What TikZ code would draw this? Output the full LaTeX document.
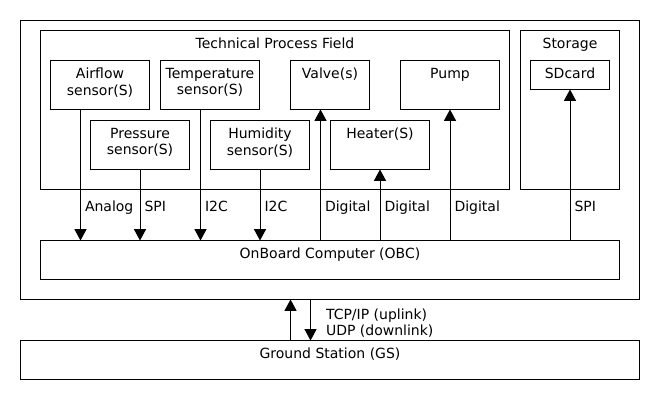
\documentclass[tikz,border=0pt]{standalone}
\usepackage{fontspec}
\setmainfont{DejaVu Sans}
\usetikzlibrary{arrows.meta,positioning}

\begin{document}
\begin{tikzpicture}[
    x=0.75pt, y=-0.75pt,
    font=\fontsize{10.5}{12.3}\selectfont,
    line width=0.75pt,
    frame/.style={
        draw,
        anchor=north west,
        inner sep=0pt,
        outer sep=0pt
    },
    box/.style={
        frame,
        minimum width=74.25pt,
        minimum height=36.75pt
    },
    boxtext/.style={
        anchor=north,
        align=center,
        inner sep=0pt,
        yshift=-5.4pt
    },
    sig/.style={anchor=base west, inner sep=0pt, xshift=3pt, yshift=21.75pt},
    arrow/.style={-{Triangle[width=9pt,length=8.5pt]}}
]
    \useasboundingbox (0,0) rectangle (660,400);

    % system frame and groups
    \node[frame, minimum width=464.25pt, minimum height=209.25pt] (system) at (20.5,20.5) {};
    \node[frame, minimum width=351.75pt, minimum height=119.25pt] (field) at (40.5,30.5) {};
    \node[boxtext] (fieldtitle) at (field.north) {Technical Process Field};
    \node[frame, minimum width=74.25pt, minimum height=119.25pt, right=8.25pt of field] (storage) {};
    \node[boxtext] (storagetitle) at (storage.north) {Storage};

    % first row
    \node[box] (airflow) at (50.5,60.5) {};
    \node[boxtext] (airflowtext) at (airflow.north) {Airflow\\sensor(S)};
    \node[box, right=8.25pt of airflow] (temperature) {};
    \node[boxtext] (temperaturetext) at (temperature.north) {Temperature\\sensor(S)};
    \node[box, minimum width=59.25pt, right=23.25pt of temperature] (valve) {};
    \node[boxtext] (valvetext) at (valve.north) {Valve(s)};
    \node[box, right=23.25pt of valve] (pump) {};
    \node[boxtext] (pumptext) at (pump.north) {Pump};

    % second row
    \node[box] (pressure) at ([xshift=30pt, yshift=-8.25pt]airflow.south west) {};
    \node[boxtext] (pressuretext) at (pressure.north) {Pressure\\sensor(S)};
    \node[box, right=15.75pt of pressure] (humidity) {};
    \node[boxtext] (humiditytext) at (humidity.north) {Humidity\\sensor(S)};
    \node[box, right=15.75pt of humidity] (heater) {};
    \node[boxtext] (heatertext) at (heater.north) {Heater(S)};

    \node[box, minimum width=59.25pt, minimum height=21.75pt] (sdcard)
        at ([xshift=7.5pt, yshift=-22.5pt]storage.north west) {};
    \node[boxtext] (sdcardtext) at (sdcard.north) {SDcard};

    \node[frame, minimum width=434.25pt, minimum height=29.25pt] (obc) at (40.5,240.5) {};
    \node[boxtext] (obctext) at (obc.north) {OnBoard Computer (OBC)};
    \node[frame, minimum width=464.25pt, minimum height=29.25pt] (gs) at (20.5,340.5) {};
    \node[boxtext] (gstext) at (gs.north) {Ground Station (GS)};

    % sensors to OBC
    \draw[arrow] ([xshift=22.5pt]airflow.south west)
        -- ([xshift=22.5pt]airflow.south west |- obc.north) node[sig] (lanalog) {Analog};
    \draw[arrow] (pressure.south)
        -- (pressure.south |- obc.north) node[sig] (lspi) {SPI};
    \draw[arrow] ([xshift=30pt]temperature.south west)
        -- ([xshift=30pt]temperature.south west |- obc.north) node[sig] (li2ca) {I2C};
    \draw[arrow] (humidity.south)
        -- (humidity.south |- obc.north) node[sig] (li2cb) {I2C};

    % OBC to actuators and storage
    \draw[arrow] ([xshift=22.5pt]valve.south west |- obc.north) node[sig] (ldigitala) {Digital}
        -- ([xshift=22.5pt]valve.south west);
    \draw[arrow] (heater.south |- obc.north) node[sig] (ldigitalb) {Digital}
        -- (heater.south);
    \draw[arrow] (pump.south |- obc.north) node[sig] (ldigitalc) {Digital}
        -- (pump.south);
    \draw[arrow] (sdcard.south |- obc.north) node[sig] (lspib) {SPI}
        -- (sdcard.south);

    % ground link
    \coordinate (uplink) at ([xshift=-29.6pt]gs.north);
    \coordinate (downlink) at ([xshift=-14.6pt]system.south);
    \draw[arrow] (uplink) -- (uplink |- system.south);
    \draw[arrow] (downlink) -- (downlink |- gs.north);
    \node[anchor=north west, align=left, inner sep=0pt] (linklabel)
        at ([xshift=11.25pt, yshift=-6.3pt]downlink) {TCP/IP (uplink)\\UDP (downlink)};
\end{tikzpicture}
\end{document}
